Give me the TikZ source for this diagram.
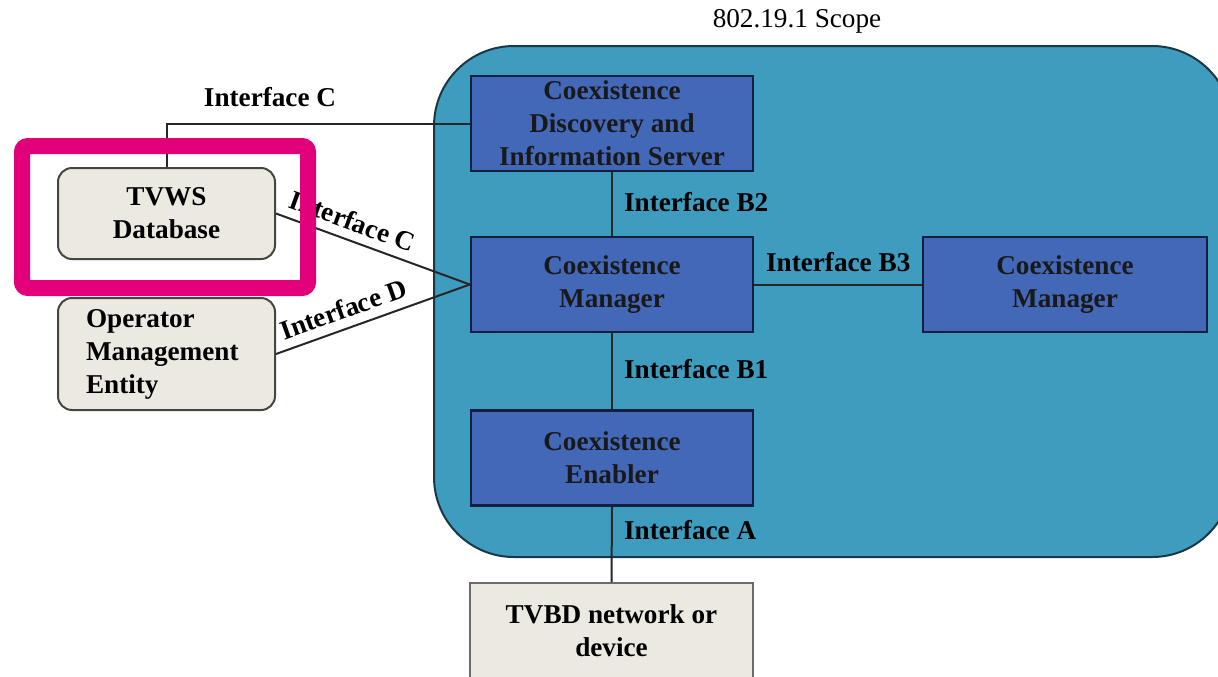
\documentclass[tikz,border=0pt]{standalone}
\usepackage{fontspec}
\setmainfont{Liberation Serif}
\usetikzlibrary{calc, arrows}
\definecolor{scopefill}{RGB}{62,156,191}
\definecolor{scopeedge}{RGB}{25,55,70}
\definecolor{cxblue}{RGB}{68,104,184}
\definecolor{cxedge}{RGB}{20,30,65}
\definecolor{beige}{RGB}{236,234,224}
\definecolor{beigeedge}{RGB}{70,70,65}
\definecolor{hilite}{RGB}{226,0,122}

\begin{document}
\begin{tikzpicture}[x=0.5pt, y=-0.5pt,
    every node/.style={font=\fontsize{13.6}{16.5}\selectfont\bfseries},
    cxbox/.style={draw=cxedge, fill=cxblue, line width=1.2pt, minimum width=141pt,
        minimum height=47.5pt, align=center, text=black!90, inner sep=0pt},
    extbox/.style={draw=beigeedge, fill=beige, line width=1pt, minimum width=108.5pt,
        inner sep=0pt, text=black},
    ifline/.style={line width=1pt, draw=black!85}]
        \useasboundingbox (0,0) rectangle (1218,676);
        \clip (0,0) rectangle (1218,676);
        \draw[fill=scopefill, draw=scopeedge, line width=1pt, rounded corners=40pt] (434,46) rectangle (1232,557);
        \node[font=\fontsize{13.6}{16}\selectfont\mdseries] (scopelbl) at (797,21) {802.19.1 Scope};

        \node[cxbox] (cdis) at (612,123.5) {Coexistence\\Discovery and\\Information Server};
        \node[cxbox] (cm) at (612,284.5) {Coexistence\\Manager};
        \node[cxbox] (ce) at (612,458) {Coexistence\\Enabler};
        \node[cxbox, minimum width=142pt] (cmb) at (1065,284.5) {Coexistence\\Manager};
        \node[extbox, draw=beigeedge!80, minimum width=141.5pt, minimum height=48pt, align=center] (tvbd) at (611.5,631) {TVBD network or\\device};
        \node[extbox, rounded corners=7pt, minimum height=45.5pt, align=center] (tvws) at (166.5,213.5) {TVWS\\Database};
        \node[extbox, rounded corners=7pt, minimum height=56pt, text width=80.5pt, align=left] (ome) at (166.5,354) {Operator\\Management\\Entity};

        \draw[ifline] (tvws.north) |- (cdis.west);
        \node (lblc) at (270,97) {Interface C};
        \draw[ifline] (tvws.east) -- node[pos=0.36, above=1pt, sloped] (lblcs) {Interface C} (cm.west);
        \draw[ifline] (ome.east) -- node[pos=0.38, above=1pt, sloped] (lbld) {Interface D} (cm.west);
        \draw[ifline] (cdis.south) -- (cm.north);
        \node[anchor=west] (lblbtwo) at (617,202) {Interface B2};
        \draw[ifline] (cm.east) -- (cmb.west);
        \node[anchor=west] (lblbthree) at (759,262) {Interface B3};
        \draw[ifline] (cm.south) -- (ce.north);
        \node[anchor=west] (lblbone) at (617,369) {Interface B1};
        \draw[ifline] (ce.south) -- (tvbd.north);
        \node[anchor=west] (lbla) at (617,530) {Interface A};

        \draw[draw=hilite, line width=8pt, rounded corners=3pt] (22,146) rectangle (308,288);
    \end{tikzpicture}
\end{document}
